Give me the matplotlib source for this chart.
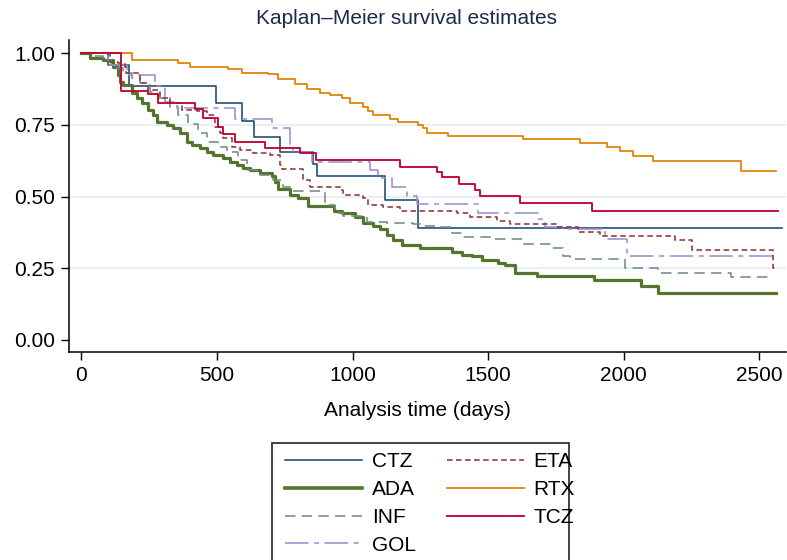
import numpy as np
import matplotlib
matplotlib.use("Agg")
import matplotlib.pyplot as plt
from matplotlib.patches import Rectangle

plt.rcParams["font.family"] = ["Liberation Sans", "DejaVu Sans"]
plt.rcParams["lines.scale_dashes"] = False

# step data (time in days, survival)
ctz_t = [0, 98, 175, 496, 592, 637, 732, 853, 867, 1119, 1242, 2582]
ctz_s = [1.0, 0.959, 0.887, 0.826, 0.765, 0.709, 0.655, 0.614, 0.570, 0.488, 0.391, 0.391]

ada_t = [0, 31, 80, 117, 136, 142, 154, 185, 203, 222, 246, 265, 280, 314, 339, 363,
         388, 406, 437, 462, 486, 523, 548, 572, 597, 621, 658, 701, 714, 726, 769, 799,
         836, 930, 960, 1008, 1039, 1075, 1100, 1125, 1150, 1181, 1248, 1365, 1402, 1439,
         1476, 1537, 1562, 1598, 1678, 1891, 2062, 2127, 2561]
ada_s = [1.0, 0.982, 0.977, 0.953, 0.924, 0.901, 0.889, 0.860, 0.843, 0.826, 0.802, 0.785,
         0.761, 0.750, 0.738, 0.721, 0.692, 0.680, 0.669, 0.657, 0.645, 0.634, 0.622, 0.610,
         0.599, 0.593, 0.581, 0.572, 0.552, 0.526, 0.506, 0.494, 0.467, 0.448, 0.442, 0.428,
         0.409, 0.398, 0.386, 0.366, 0.349, 0.331, 0.322, 0.308, 0.296, 0.291, 0.279, 0.267,
         0.262, 0.235, 0.224, 0.209, 0.189, 0.165, 0.165]

inf_t = [0, 40, 80, 110, 130, 154, 185, 216, 253, 283, 326, 357, 394, 431, 462, 505, 536,
         579, 609, 658, 707, 744, 781, 898, 935, 965, 1052, 1125, 1224, 1248, 1310, 1365,
         1408, 1518, 1629, 1727, 1777, 1801, 2004, 2127, 2397, 2551]
inf_s = [1.0, 0.99, 0.975, 0.96, 0.947, 0.930, 0.915, 0.895, 0.866, 0.843, 0.814, 0.785,
         0.753, 0.721, 0.692, 0.674, 0.657, 0.628, 0.593, 0.576, 0.558, 0.535, 0.519, 0.471,
         0.442, 0.433, 0.413, 0.407, 0.405, 0.398, 0.393, 0.372, 0.360, 0.351, 0.335, 0.320,
         0.293, 0.281, 0.250, 0.233, 0.219, 0.219]

gol_t = [0, 99, 167, 271, 308, 351, 566, 701, 769, 780, 849, 1064, 1094, 1144, 1201, 1238,
         1462, 1684, 1709, 1771, 1931, 2012, 2550]
gol_s = [1.0, 0.959, 0.924, 0.884, 0.831, 0.810, 0.770, 0.738, 0.669, 0.657, 0.619, 0.591,
         0.564, 0.535, 0.503, 0.473, 0.444, 0.422, 0.395, 0.386, 0.352, 0.293, 0.293]

eta_t = [0, 105, 136, 160, 166, 216, 246, 289, 326, 369, 425, 462, 492, 511, 523, 554, 584,
         633, 695, 732, 738, 818, 843, 953, 965, 1039, 1058, 1113, 1175, 1384, 1432, 1531,
         1580, 1752, 1832, 1912, 2188, 2250, 2549, 2560]
eta_s = [1.0, 0.971, 0.965, 0.953, 0.930, 0.895, 0.872, 0.843, 0.826, 0.802, 0.797, 0.785,
         0.744, 0.721, 0.703, 0.674, 0.663, 0.653, 0.645, 0.610, 0.595, 0.558, 0.535, 0.523,
         0.506, 0.494, 0.471, 0.463, 0.451, 0.442, 0.428, 0.416, 0.405, 0.393, 0.378, 0.363,
         0.349, 0.314, 0.250, 0.250]

rtx_t = [0, 185, 356, 400, 540, 591, 689, 726, 787, 830, 879, 916, 962, 990, 1039, 1058,
         1076, 1137, 1168, 1242, 1260, 1273, 1353, 1629, 1838, 1937, 1986, 2032, 2108, 2432, 2561]
rtx_s = [1.0, 0.977, 0.965, 0.953, 0.944, 0.932, 0.927, 0.909, 0.893, 0.876, 0.861, 0.855,
         0.843, 0.826, 0.814, 0.799, 0.785, 0.770, 0.759, 0.750, 0.738, 0.721, 0.712, 0.700,
         0.688, 0.674, 0.659, 0.643, 0.625, 0.589, 0.589]

tcz_t = [0, 146, 246, 283, 419, 449, 504, 523, 566, 677, 806, 865, 1174, 1310, 1328, 1393,
         1453, 1469, 1617, 1881, 2569]
tcz_s = [1.0, 0.868, 0.858, 0.828, 0.805, 0.773, 0.742, 0.717, 0.692, 0.669, 0.651, 0.628,
         0.604, 0.585, 0.567, 0.544, 0.523, 0.503, 0.477, 0.450, 0.450]

series = [
    ("CTZ", ctz_t, ctz_s, "#1a476f", 1.15, None),
    ("ADA", ada_t, ada_s, "#55752f", 2.3, None),
    ("INF", inf_t, inf_s, "#6e8e84", 1.15, (0, (7.5, 4.5))),
    ("GOL", gol_t, gol_s, "#9a8fd2", 1.15, (0, (17, 4, 3.5, 4))),
    ("ETA", eta_t, eta_s, "#90353b", 1.15, (0, (4, 2.5))),
    ("RTX", rtx_t, rtx_s, "#e37e00", 1.25, None),
    ("TCZ", tcz_t, tcz_s, "#c10534", 1.35, None),
]

fs = 15

fig = plt.figure(figsize=(7.87, 5.6), dpi=100)
ax = fig.add_axes([69 / 787, (560 - 351.7) / 560, (786 - 69) / 787, (351.7 - 40) / 560])

for y in [0.25, 0.5, 0.75]:
    ax.axhline(y, color="#e8f0f2", lw=1.5, zorder=0)

handles = []
for name, t, s, col, lw, ls in series:
    kw = {}
    if ls is not None:
        kw["linestyle"] = ls
    h, = ax.step(t, s, where="post", color=col, lw=lw, label=name, **kw)
    handles.append(h)

ax.set_xlim(-46, 2598)
ax.set_ylim(-0.041, 1.046)
ax.set_xticks([0, 500, 1000, 1500, 2000, 2500])
ax.set_yticks([0, 0.25, 0.5, 0.75, 1.0])
ax.set_yticklabels(["0.00", "0.25", "0.50", "0.75", "1.00"])
ax.tick_params(direction="out", length=6, width=1, labelsize=fs, pad=4, colors="black")
for side in ["top", "right"]:
    ax.spines[side].set_visible(False)
for side in ["left", "bottom"]:
    ax.spines[side].set_linewidth(1.1)

fig.text(407 / 787, 1 - 18 / 560, "Kaplan\u2013Meier survival estimates", ha="center",
         va="center", fontsize=fs, color="#1c2b4b")
fig.text(417 / 787, 1 - 411 / 560, "Analysis time (days)", ha="center", va="center",
         fontsize=fs)

leg = fig.legend(handles=handles, loc="upper left", bbox_to_anchor=(276 / 787, 1 - 443 / 560),
                 ncol=2, fontsize=fs, frameon=False, handlelength=3.7,
                 handletextpad=0.45, columnspacing=1.5, labelspacing=0.42, borderpad=0.45,
                 borderaxespad=0)
leg.get_lines()[1].set_linewidth(2.6)

# legend box, runs off the bottom of the figure like the reference
fig.add_artist(Rectangle((272 / 787, -0.1), (569 - 272) / 787, 0.1 + (1 - 443 / 560),
                         transform=fig.transFigure, fill=False, ec="#222222", lw=1.2))

fig.savefig("out.png", dpi=100)
